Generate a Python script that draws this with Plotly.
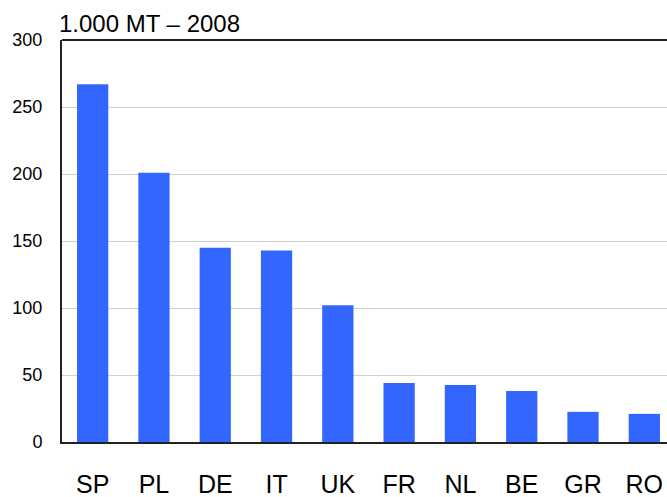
import plotly.graph_objects as go

countries = ["SP", "PL", "DE", "IT", "UK", "FR", "NL", "BE", "GR", "RO"]
values = [267, 201, 145, 143, 102, 44, 42.5, 38, 22.5, 21]
y_ticks = [0, 50, 100, 150, 200, 250, 300]
title_text = "1.000 MT – 2008"

fig = go.Figure(go.Bar(x=countries, y=values, marker_color="#3366FF", marker_line_width=0))

fig.update_layout(
    width=667, height=497,
    margin=dict(l=62, r=0, t=40, b=55, autoexpand=False),
    paper_bgcolor="white", plot_bgcolor="white",
    bargap=0.49,
    showlegend=False,
    font=dict(family="Liberation Sans, Arial, sans-serif", color="black"),
    xaxis=dict(
        range=[-0.5, 9.37],
        showline=True, linecolor="#222222", linewidth=2,
        showgrid=False, ticks="",
        tickfont=dict(size=25),
        ticklabelstandoff=19,
        automargin=False,
        fixedrange=True,
    ),
    yaxis=dict(
        range=[0, 300],
        tickvals=y_ticks,
        showline=True, linecolor="#222222", linewidth=2,
        showgrid=True, gridcolor="#d0d0d0", gridwidth=1,
        zeroline=False,
        ticks="", tickfont=dict(size=18),
        ticklabelstandoff=14,
        automargin=False,
        fixedrange=True,
    ),
    shapes=[dict(type="line", xref="paper", yref="paper", x0=0, x1=1, y0=1, y1=1,
                 line=dict(color="#222222", width=2))],
    annotations=[dict(text=title_text, xref="paper", yref="paper", x=0, y=1,
                      xanchor="left", yanchor="bottom", xshift=-5, yshift=1,
                      showarrow=False, font=dict(size=24, color="black"))],
)

fig.write_html("out.html", config={"displayModeBar": False},
               post_script="document.body.style.margin='0';")
